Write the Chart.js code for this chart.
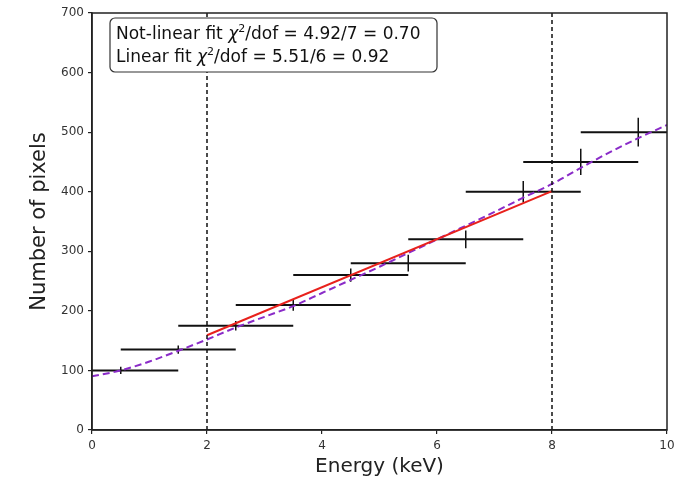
<!DOCTYPE html>
<html>
<head>
<meta charset="utf-8">
<script src="https://cdn.jsdelivr.net/npm/chart.js@4.4.1/dist/chart.umd.min.js"></script>
<style>
  html, body { margin: 0; padding: 0; background: #fff; }
  #wrap { width: 691px; height: 482px; }
</style>
</head>
<body>
<div id="wrap"><canvas id="c" width="691" height="482"></canvas></div>
<script>
// measured spectrum (bin centre, half width, counts, error)
const energy    = [0.5, 1.5, 2.5, 3.5, 4.5, 5.5, 6.5, 7.5, 8.5, 9.5];
const energyErr = [1, 1, 1, 1, 1, 1, 1, 1, 1, 1];
const counts    = [100, 135, 175, 210, 260, 280, 320, 400, 450, 500];
const countsErr = [6, 7, 8, 10, 11, 14, 15, 18, 22, 24];

// not-linear fit
const fitEnergy    = [0, 0.5, 1, 1.5, 2, 2.5, 3, 3.5, 4, 4.5, 5, 5.5, 6, 6.5, 7, 7.5, 8, 8.5, 9, 9.5, 10];
const nonLinearFit = [90, 100, 115, 133, 152, 172, 190, 208, 230, 252, 274, 297, 320, 343, 366, 390, 413, 440, 466, 490, 512];

// linear fit, only between the cuts
const linEnergy = [2, 8];
const linearFit = [159, 401];

// fit range limits
const cutEnergy = [2, 8];

const xTicks = [0, 2, 4, 6, 8, 10];
const yTicks = [0, 100, 200, 300, 400, 500, 600, 700];

const boxLines = [
  { pre: 'Not-linear fit ', post: '/dof = 4.92/7 = 0.70' },
  { pre: 'Linear fit ', post: '/dof = 5.51/6 = 0.92' }
];

const FONT = "'DejaVu Sans', sans-serif";

// error bars drawn with the chart scales
const errorBars = {
  id: 'errorBars',
  beforeDatasetsDraw(chart) {
    const { ctx, chartArea, scales: { x, y } } = chart;
    ctx.save();
    ctx.beginPath();
    ctx.rect(chartArea.left, chartArea.top, chartArea.width, chartArea.height);
    ctx.clip();
    ctx.strokeStyle = '#111';
    energy.forEach((e, i) => {
      const py = y.getPixelForValue(counts[i]);
      const px = x.getPixelForValue(e);
      ctx.lineWidth = 2;
      ctx.beginPath();
      ctx.moveTo(x.getPixelForValue(e - energyErr[i]), py);
      ctx.lineTo(x.getPixelForValue(e + energyErr[i]), py);
      ctx.stroke();
      ctx.lineWidth = 1.5;
      ctx.beginPath();
      ctx.moveTo(px, y.getPixelForValue(counts[i] - countsErr[i]));
      ctx.lineTo(px, y.getPixelForValue(counts[i] + countsErr[i]));
      ctx.stroke();
    });
    ctx.restore();
  }
};

// frame + chi2 text box
const frameAndBox = {
  id: 'frameAndBox',
  afterDraw(chart) {
    const { ctx, chartArea: a } = chart;
    ctx.save();
    ctx.strokeStyle = '#222';
    ctx.lineWidth = 1.5;
    ctx.strokeRect(a.left, a.top, a.width, a.height);

    // rounded box
    const bx = 110, by = 18, bw = 327, bh = 54, r = 5;
    ctx.beginPath();
    ctx.moveTo(bx + r, by);
    ctx.arcTo(bx + bw, by, bx + bw, by + bh, r);
    ctx.arcTo(bx + bw, by + bh, bx, by + bh, r);
    ctx.arcTo(bx, by + bh, bx, by, r);
    ctx.arcTo(bx, by, bx + bw, by, r);
    ctx.closePath();
    ctx.fillStyle = '#fff';
    ctx.fill();
    ctx.strokeStyle = '#333';
    ctx.lineWidth = 1.2;
    ctx.stroke();

    ctx.fillStyle = '#111';
    ctx.textBaseline = 'alphabetic';
    boxLines.forEach((ln, i) => {
      let tx = 116;
      const ty = 39 + i * 23;
      ctx.font = '17px ' + FONT;
      ctx.fillText(ln.pre, tx, ty);
      tx += ctx.measureText(ln.pre).width;
      ctx.font = 'italic 17px ' + FONT;
      ctx.fillText('\u03c7', tx, ty);
      tx += ctx.measureText('\u03c7').width;
      ctx.font = '11px ' + FONT;
      ctx.fillText('2', tx, ty - 7);
      tx += ctx.measureText('2').width;
      ctx.font = '17px ' + FONT;
      ctx.fillText(ln.post, tx, ty);
    });
    ctx.restore();
  }
};

const tickFont = { family: FONT, size: 12 };

new Chart(document.getElementById('c'), {
  type: 'scatter',
  data: {
    datasets: [
      {
        label: 'cut low',
        data: [{ x: cutEnergy[0], y: 0 }, { x: cutEnergy[0], y: 700 }],
        showLine: true, borderColor: '#111', borderWidth: 1.5, borderDash: [4, 3],
        pointRadius: 0
      },
      {
        label: 'cut high',
        data: [{ x: cutEnergy[1], y: 0 }, { x: cutEnergy[1], y: 700 }],
        showLine: true, borderColor: '#111', borderWidth: 1.5, borderDash: [4, 3],
        pointRadius: 0
      },
      {
        label: 'Linear fit',
        data: linEnergy.map((e, i) => ({ x: e, y: linearFit[i] })),
        showLine: true, borderColor: '#e8211c', borderWidth: 2,
        pointRadius: 0
      },
      {
        label: 'Not-linear fit',
        data: fitEnergy.map((e, i) => ({ x: e, y: nonLinearFit[i] })),
        showLine: true, borderColor: '#8a2bc8', borderWidth: 2, borderDash: [7, 4],
        cubicInterpolationMode: 'monotone',
        pointRadius: 0
      }
    ]
  },
  options: {
    responsive: false,
    animation: false,
    layout: { padding: { left: 0, right: 24, top: 13, bottom: 0 } },
    plugins: {
      legend: { display: false },
      tooltip: { enabled: false }
    },
    scales: {
      x: {
        type: 'linear', min: 0, max: 10,
        afterBuildTicks: s => { s.ticks = xTicks.map(v => ({ value: v })); },
        afterFit: s => { s.height = 52; },
        ticks: { font: tickFont, color: '#333', padding: 5 },
        grid: { drawOnChartArea: false, drawTicks: true, tickLength: 4, color: '#222', lineWidth: 1.2 },
        border: { color: '#222', width: 1.5 },
        title: { display: true, text: 'Energy (keV)', font: { family: FONT, size: 20 }, color: '#222', padding: { bottom: 3 } }
      },
      y: {
        type: 'linear', min: 0, max: 700,
        afterBuildTicks: s => { s.ticks = yTicks.map(v => ({ value: v })); },
        afterFit: s => { s.width = 92; },
        ticks: { font: tickFont, color: '#333', padding: 4 },
        grid: { drawOnChartArea: false, drawTicks: true, tickLength: 4, color: '#222', lineWidth: 1.2 },
        border: { color: '#222', width: 1.5 },
        title: { display: true, text: 'Number of pixels', font: { family: FONT, size: 21 }, color: '#222', padding: { top: 27 } }
      }
    }
  },
  plugins: [errorBars, frameAndBox]
});
</script>
</body>
</html>
